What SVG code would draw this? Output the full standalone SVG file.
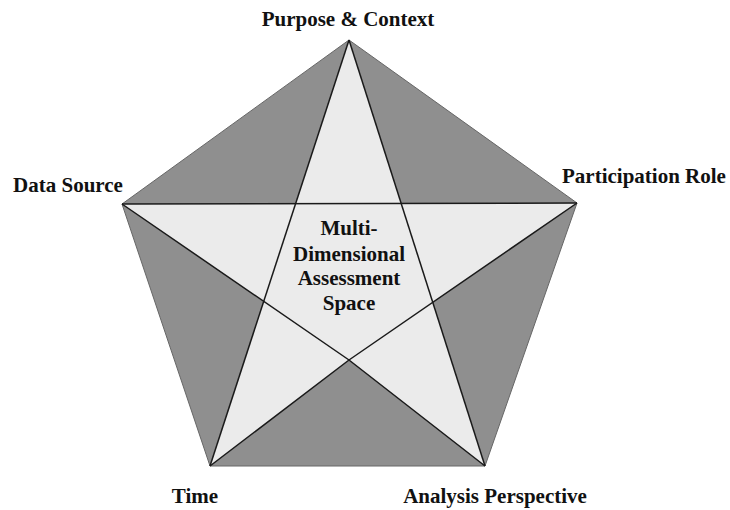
<svg xmlns="http://www.w3.org/2000/svg" width="730" height="510" viewBox="0 0 730 510">
<style>
text{font-family:"Liberation Serif","Times New Roman",serif;font-weight:bold;font-size:21px;fill:#111}
.dark{fill:#8f8f8f;stroke:#666;stroke-width:1}
.light{fill:#ebebeb;stroke:none}
.line{stroke:#1a1a1a;stroke-width:1.5;fill:none;stroke-linejoin:round}
</style>
<rect width="730" height="510" fill="#fff"/>
<g id="pentagon">
<polygon class="dark" points="349,40 577,203 485,466 210,466 122,204"/>
</g>
<g id="star">
<polygon class="light" points="349,40 401.2,203.4 577,203 432.7,302.3 485,466 349,360 210,466 263.7,301.4 122,204 295.6,203.6"/>
</g>
<g id="connectors">
<line class="line" x1="349" y1="40" x2="210" y2="466"/>
<line class="line" x1="349" y1="40" x2="485" y2="466"/>
<line class="line" x1="122" y1="204" x2="577" y2="203" stroke-width="2"/>
<polyline class="line" points="122,204 349,360 485,466"/>
<polyline class="line" points="577,203 349,360 210,466"/>
</g>
<g id="purpose"><text x="348" y="26" text-anchor="middle">Purpose &amp; Context</text></g>
<g id="participation"><text x="644" y="183" text-anchor="middle">Participation Role</text></g>
<g id="datasource"><text x="68" y="192" text-anchor="middle">Data Source</text></g>
<g id="time"><text x="195" y="503" text-anchor="middle">Time</text></g>
<g id="analysis"><text x="495" y="503" text-anchor="middle">Analysis Perspective</text></g>
<g id="center">
<text x="349" y="235" text-anchor="middle">Multi-</text>
<text x="349" y="261" text-anchor="middle">Dimensional</text>
<text x="349" y="285" text-anchor="middle">Assessment</text>
<text x="349" y="310" text-anchor="middle">Space</text>
</g>
</svg>
